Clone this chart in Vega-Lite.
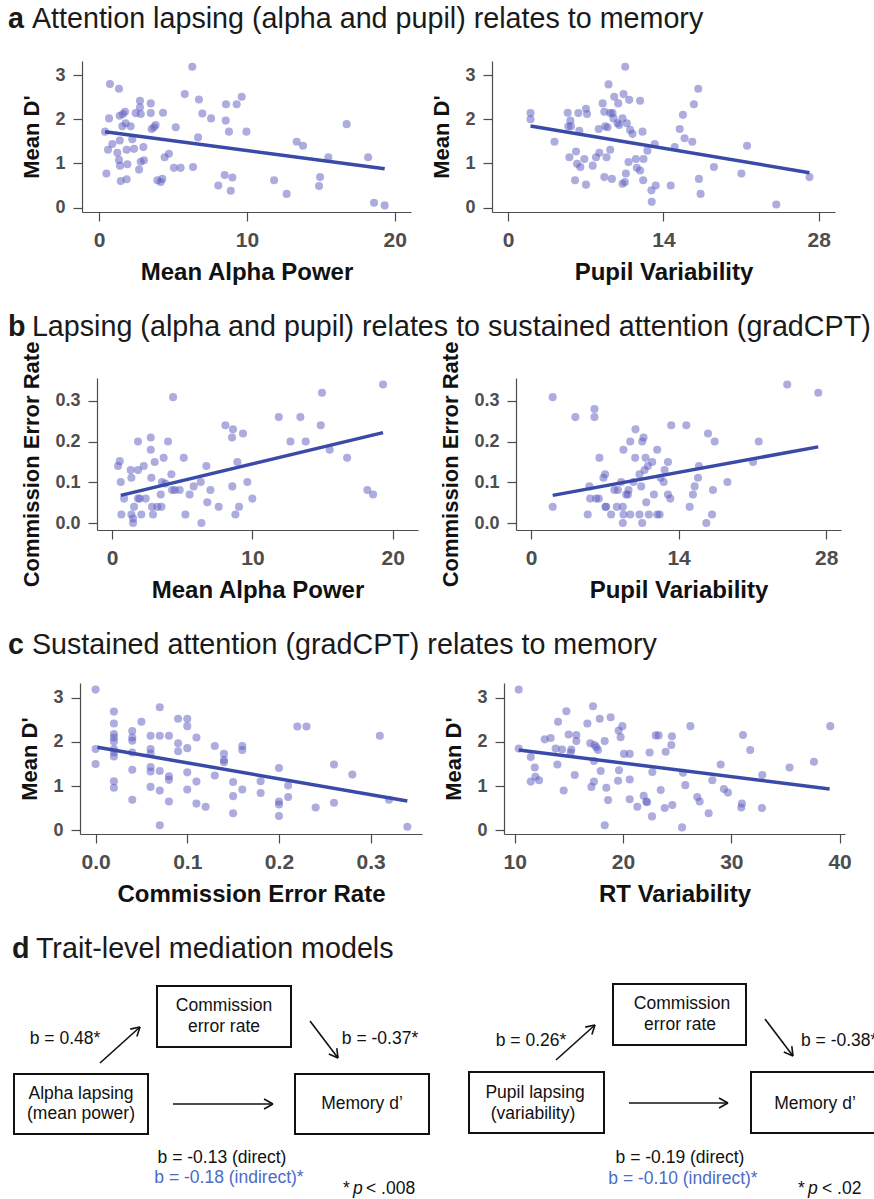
{
"$schema": "https://vega.github.io/schema/vega-lite/v6.json",
"padding": {"left": 8, "top": 5, "right": 0, "bottom": 0},
"spacing": 29,
"config": {
 "font": "Liberation Sans",
 "view": {"stroke": null},
 "axis": {"grid": false, "domainColor": "#4d4d4d", "domainWidth": 1.2, "tickColor": "#4d4d4d", "tickSize": 9, "tickWidth": 1.2, "labelFont": "Liberation Sans", "labelFontWeight": "bold", "labelColor": "#4d4d4d", "labelPadding": 8, "titleFont": "Liberation Sans", "titleFontWeight": "bold", "titleColor": "#111111", "labelFlush": false, "labelOverlap": false},
 "axisX": {"labelFontSize": 21, "titleFontSize": 24, "titlePadding": 10},
 "axisY": {"labelFontSize": 18, "titleFontSize": 22, "titlePadding": 11},
 "title": {"font": "Liberation Sans", "anchor": "start", "fontSize": 28.7, "fontWeight": "bold", "color": "#1a1a1a", "subtitleFont": "Liberation Sans", "subtitleFontSize": 28.7, "subtitleFontWeight": "normal", "subtitleColor": "#1a1a1a", "subtitlePadding": -28.7}
},
"datasets": {
 "a1_pts": [{"x":0.41,"y":1.72},{"x":0.5,"y":0.77},{"x":0.61,"y":1.31},{"x":0.68,"y":2.02},{"x":0.74,"y":2.8},{"x":0.9,"y":1.44},{"x":1.24,"y":1.24},{"x":1.35,"y":2.69},{"x":1.4,"y":1.52},{"x":1.4,"y":2.08},{"x":1.35,"y":1.08},{"x":1.42,"y":0.95},{"x":1.47,"y":0.6},{"x":1.62,"y":2.12},{"x":1.58,"y":1.84},{"x":1.76,"y":2.17},{"x":1.8,"y":1.91},{"x":1.87,"y":1.31},{"x":1.87,"y":0.64},{"x":1.92,"y":0.98},{"x":2.14,"y":1.84},{"x":2.25,"y":1.55},{"x":2.37,"y":1.33},{"x":2.48,"y":2.14},{"x":2.77,"y":2.42},{"x":2.77,"y":2.27},{"x":2.82,"y":2.12},{"x":2.71,"y":0.86},{"x":2.82,"y":1.04},{"x":3.0,"y":1.37},{"x":3.04,"y":1.07},{"x":3.5,"y":2.36},{"x":3.5,"y":2.14},{"x":3.56,"y":1.78},{"x":3.72,"y":1.82},{"x":3.83,"y":1.87},{"x":3.95,"y":0.62},{"x":4.17,"y":0.58},{"x":4.28,"y":0.65},{"x":4.33,"y":2.15},{"x":4.44,"y":1.14},{"x":4.73,"y":1.22},{"x":5.07,"y":0.9},{"x":5.19,"y":1.82},{"x":5.52,"y":0.9},{"x":5.8,"y":2.57},{"x":6.31,"y":3.19},{"x":6.36,"y":0.92},{"x":6.7,"y":1.59},{"x":6.76,"y":2.45},{"x":6.99,"y":2.13},{"x":7.58,"y":2.02},{"x":8.07,"y":0.5},{"x":8.5,"y":0.74},{"x":8.57,"y":1.97},{"x":8.59,"y":2.34},{"x":8.79,"y":1.72},{"x":9.02,"y":0.68},{"x":8.91,"y":0.38},{"x":9.31,"y":2.34},{"x":9.65,"y":2.51},{"x":9.97,"y":1.72},{"x":11.84,"y":0.62},{"x":12.69,"y":0.31},{"x":13.37,"y":1.49},{"x":13.8,"y":1.4},{"x":14.88,"y":0.49},{"x":14.95,"y":0.69},{"x":15.51,"y":1.14},{"x":16.75,"y":1.89},{"x":18.2,"y":1.14},{"x":18.6,"y":0.11},{"x":19.32,"y":0.05}],
 "a1_fit": [{"x":0.41,"y":1.72},{"x":19.32,"y":0.88}],
 "a2_pts": [{"x":2.03,"y":2.14},{"x":2.03,"y":2.0},{"x":4.19,"y":1.49},{"x":5.38,"y":2.15},{"x":5.62,"y":1.97},{"x":5.44,"y":1.84},{"x":5.68,"y":1.84},{"x":5.53,"y":1.14},{"x":6.04,"y":0.62},{"x":6.13,"y":1.27},{"x":6.22,"y":0.99},{"x":6.43,"y":1.74},{"x":6.52,"y":0.92},{"x":6.34,"y":2.14},{"x":6.88,"y":1.1},{"x":7.03,"y":2.24},{"x":7.12,"y":2.12},{"x":7.03,"y":0.52},{"x":7.63,"y":0.95},{"x":7.93,"y":1.14},{"x":8.23,"y":1.24},{"x":8.17,"y":1.78},{"x":8.53,"y":2.36},{"x":8.68,"y":2.17},{"x":8.68,"y":0.69},{"x":8.76,"y":1.84},{"x":8.88,"y":1.14},{"x":8.97,"y":1.82},{"x":9.06,"y":2.79},{"x":9.21,"y":1.31},{"x":9.21,"y":2.14},{"x":9.42,"y":2.14},{"x":9.36,"y":0.65},{"x":9.51,"y":2.02},{"x":9.57,"y":2.51},{"x":9.87,"y":1.91},{"x":9.93,"y":2.36},{"x":10.02,"y":1.87},{"x":10.32,"y":2.02},{"x":10.32,"y":0.54},{"x":10.41,"y":2.57},{"x":10.56,"y":3.19},{"x":10.62,"y":0.77},{"x":10.53,"y":0.58},{"x":10.71,"y":1.91},{"x":10.86,"y":1.03},{"x":10.92,"y":2.44},{"x":11.0,"y":1.76},{"x":11.22,"y":1.67},{"x":11.52,"y":1.1},{"x":11.61,"y":0.9},{"x":11.9,"y":0.84},{"x":11.9,"y":2.42},{"x":12.12,"y":1.72},{"x":12.18,"y":0.62},{"x":12.21,"y":1.1},{"x":12.56,"y":1.29},{"x":12.92,"y":0.39},{"x":12.95,"y":0.13},{"x":13.22,"y":1.44},{"x":13.31,"y":0.5},{"x":14.66,"y":0.5},{"x":15.02,"y":1.37},{"x":15.47,"y":1.78},{"x":15.76,"y":2.1},{"x":15.91,"y":1.57},{"x":16.6,"y":1.49},{"x":16.75,"y":2.34},{"x":17.14,"y":2.69},{"x":17.2,"y":0.65},{"x":17.35,"y":0.31},{"x":18.55,"y":0.92},{"x":21.03,"y":0.77},{"x":21.54,"y":1.4},{"x":24.17,"y":0.07},{"x":27.16,"y":0.69}],
 "a2_fit": [{"x":2.03,"y":1.85},{"x":27.16,"y":0.79}],
 "b1_pts": [{"x":0.43,"y":0.14},{"x":0.55,"y":0.152},{"x":0.62,"y":0.101},{"x":0.67,"y":0.021},{"x":0.86,"y":0.06},{"x":1.33,"y":0.13},{"x":1.38,"y":0.111},{"x":1.38,"y":0.021},{"x":1.5,"y":0.0},{"x":1.57,"y":0.04},{"x":1.5,"y":0.011},{"x":1.85,"y":0.2},{"x":1.85,"y":0.13},{"x":1.85,"y":0.06},{"x":2.09,"y":0.021},{"x":1.97,"y":0.06},{"x":2.26,"y":0.14},{"x":2.4,"y":0.06},{"x":2.76,"y":0.21},{"x":2.76,"y":0.18},{"x":2.8,"y":0.111},{"x":2.85,"y":0.04},{"x":2.92,"y":0.021},{"x":3.04,"y":0.15},{"x":3.23,"y":0.04},{"x":3.47,"y":0.07},{"x":3.52,"y":0.04},{"x":3.56,"y":0.101},{"x":3.68,"y":0.16},{"x":3.8,"y":0.097},{"x":3.99,"y":0.2},{"x":4.23,"y":0.12},{"x":4.28,"y":0.081},{"x":4.35,"y":0.309},{"x":4.47,"y":0.081},{"x":4.82,"y":0.081},{"x":5.11,"y":0.16},{"x":5.23,"y":0.021},{"x":5.53,"y":0.07},{"x":5.82,"y":0.09},{"x":6.32,"y":0.101},{"x":6.37,"y":0.0},{"x":6.72,"y":0.14},{"x":6.79,"y":0.051},{"x":7.01,"y":0.081},{"x":7.6,"y":0.04},{"x":8.08,"y":0.24},{"x":8.55,"y":0.21},{"x":8.62,"y":0.23},{"x":8.57,"y":0.09},{"x":8.79,"y":0.021},{"x":8.93,"y":0.15},{"x":9.05,"y":0.04},{"x":9.33,"y":0.22},{"x":9.64,"y":0.101},{"x":10.0,"y":0.06},{"x":11.88,"y":0.26},{"x":12.71,"y":0.2},{"x":13.42,"y":0.26},{"x":13.8,"y":0.2},{"x":14.87,"y":0.24},{"x":14.96,"y":0.32},{"x":15.51,"y":0.18},{"x":16.75,"y":0.16},{"x":18.19,"y":0.081},{"x":18.6,"y":0.07},{"x":19.31,"y":0.34}],
 "b1_fit": [{"x":0.62,"y":0.068},{"x":19.31,"y":0.222}],
 "b2_pts": [{"x":2.06,"y":0.309},{"x":2.06,"y":0.04},{"x":4.21,"y":0.26},{"x":5.38,"y":0.021},{"x":5.54,"y":0.09},{"x":5.61,"y":0.06},{"x":6.02,"y":0.28},{"x":6.02,"y":0.26},{"x":6.18,"y":0.06},{"x":6.43,"y":0.06},{"x":6.49,"y":0.16},{"x":6.87,"y":0.111},{"x":7.03,"y":0.12},{"x":7.06,"y":0.04},{"x":7.13,"y":0.04},{"x":7.6,"y":0.021},{"x":7.91,"y":0.081},{"x":8.14,"y":0.04},{"x":8.24,"y":0.081},{"x":8.55,"y":0.101},{"x":8.71,"y":0.04},{"x":8.77,"y":0.18},{"x":8.77,"y":0.021},{"x":8.71,"y":0.0},{"x":9.03,"y":0.07},{"x":9.19,"y":0.07},{"x":9.25,"y":0.081},{"x":9.41,"y":0.021},{"x":9.41,"y":0.2},{"x":9.72,"y":0.101},{"x":9.91,"y":0.23},{"x":9.88,"y":0.16},{"x":10.29,"y":0.021},{"x":10.55,"y":0.0},{"x":10.45,"y":0.09},{"x":10.29,"y":0.12},{"x":10.55,"y":0.2},{"x":10.68,"y":0.21},{"x":10.77,"y":0.13},{"x":10.87,"y":0.16},{"x":10.93,"y":0.051},{"x":11.18,"y":0.021},{"x":11.09,"y":0.14},{"x":11.5,"y":0.15},{"x":11.66,"y":0.07},{"x":11.97,"y":0.18},{"x":11.97,"y":0.021},{"x":12.2,"y":0.021},{"x":12.29,"y":0.111},{"x":12.58,"y":0.101},{"x":12.67,"y":0.13},{"x":12.99,"y":0.15},{"x":12.99,"y":0.07},{"x":13.21,"y":0.06},{"x":13.3,"y":0.24},{"x":14.73,"y":0.24},{"x":15.05,"y":0.04},{"x":15.36,"y":0.07},{"x":15.52,"y":0.09},{"x":15.84,"y":0.111},{"x":15.93,"y":0.14},{"x":16.63,"y":0.0},{"x":16.79,"y":0.22},{"x":17.17,"y":0.021},{"x":17.26,"y":0.081},{"x":17.42,"y":0.2},{"x":18.63,"y":0.101},{"x":21.06,"y":0.15},{"x":21.6,"y":0.2},{"x":24.3,"y":0.34},{"x":27.24,"y":0.32}],
 "b2_fit": [{"x":2.06,"y":0.068},{"x":27.24,"y":0.187}],
 "c1_pts": [{"x":0.0,"y":3.19},{"x":0.0,"y":1.84},{"x":0.0,"y":1.5},{"x":0.02,"y":2.69},{"x":0.02,"y":2.42},{"x":0.02,"y":2.18},{"x":0.02,"y":2.1},{"x":0.02,"y":2.01},{"x":0.02,"y":1.84},{"x":0.02,"y":1.76},{"x":0.02,"y":1.67},{"x":0.02,"y":1.11},{"x":0.02,"y":0.96},{"x":0.04,"y":2.25},{"x":0.04,"y":2.1},{"x":0.04,"y":2.03},{"x":0.04,"y":1.76},{"x":0.04,"y":1.37},{"x":0.04,"y":0.69},{"x":0.05,"y":2.46},{"x":0.06,"y":2.14},{"x":0.06,"y":1.84},{"x":0.06,"y":1.74},{"x":0.06,"y":1.43},{"x":0.06,"y":1.33},{"x":0.06,"y":0.98},{"x":0.07,"y":2.79},{"x":0.07,"y":2.14},{"x":0.07,"y":1.34},{"x":0.07,"y":0.9},{"x":0.07,"y":0.11},{"x":0.08,"y":2.14},{"x":0.08,"y":1.22},{"x":0.08,"y":1.14},{"x":0.08,"y":0.65},{"x":0.09,"y":2.53},{"x":0.09,"y":1.97},{"x":0.09,"y":1.79},{"x":0.1,"y":2.53},{"x":0.1,"y":2.36},{"x":0.1,"y":1.86},{"x":0.1,"y":1.31},{"x":0.1,"y":0.92},{"x":0.11,"y":2.1},{"x":0.11,"y":1.1},{"x":0.11,"y":0.6},{"x":0.12,"y":0.53},{"x":0.13,"y":1.91},{"x":0.13,"y":1.24},{"x":0.14,"y":1.73},{"x":0.14,"y":1.59},{"x":0.14,"y":1.54},{"x":0.15,"y":1.09},{"x":0.15,"y":0.77},{"x":0.15,"y":0.38},{"x":0.16,"y":1.91},{"x":0.16,"y":1.82},{"x":0.16,"y":0.92},{"x":0.18,"y":1.11},{"x":0.18,"y":0.84},{"x":0.2,"y":1.41},{"x":0.2,"y":0.65},{"x":0.2,"y":0.58},{"x":0.2,"y":0.32},{"x":0.21,"y":1.01},{"x":0.21,"y":0.75},{"x":0.22,"y":2.35},{"x":0.23,"y":2.35},{"x":0.24,"y":0.51},{"x":0.26,"y":1.49},{"x":0.26,"y":0.62},{"x":0.28,"y":1.26},{"x":0.31,"y":2.14},{"x":0.32,"y":0.69},{"x":0.34,"y":0.075}],
 "c1_fit": [{"x":0.002,"y":1.88},{"x":0.34,"y":0.66}],
 "c2_pts": [{"x":10.37,"y":3.19},{"x":10.37,"y":1.85},{"x":11.48,"y":1.66},{"x":11.48,"y":1.1},{"x":11.85,"y":1.42},{"x":11.91,"y":1.21},{"x":12.25,"y":1.13},{"x":12.77,"y":2.06},{"x":13.32,"y":2.09},{"x":13.78,"y":1.85},{"x":13.94,"y":1.49},{"x":14.0,"y":2.46},{"x":14.37,"y":1.83},{"x":14.52,"y":0.9},{"x":14.77,"y":2.7},{"x":14.98,"y":2.17},{"x":15.17,"y":1.76},{"x":15.23,"y":1.83},{"x":15.54,"y":1.25},{"x":15.69,"y":2.16},{"x":15.69,"y":2.02},{"x":16.71,"y":2.42},{"x":16.98,"y":1.97},{"x":17.08,"y":0.98},{"x":17.23,"y":2.81},{"x":17.32,"y":1.57},{"x":17.32,"y":1.1},{"x":17.38,"y":1.93},{"x":17.54,"y":1.88},{"x":17.69,"y":1.82},{"x":17.85,"y":2.53},{"x":17.94,"y":1.34},{"x":18.31,"y":2.02},{"x":18.31,"y":0.11},{"x":18.46,"y":0.96},{"x":18.62,"y":0.68},{"x":18.86,"y":2.56},{"x":19.54,"y":1.12},{"x":19.63,"y":1.36},{"x":19.6,"y":2.26},{"x":19.78,"y":2.11},{"x":19.94,"y":2.36},{"x":20.09,"y":1.73},{"x":20.62,"y":1.73},{"x":20.62,"y":1.15},{"x":20.62,"y":0.7},{"x":21.32,"y":0.53},{"x":21.91,"y":0.78},{"x":22.15,"y":0.65},{"x":22.22,"y":0.63},{"x":22.46,"y":1.76},{"x":22.68,"y":0.31},{"x":22.71,"y":1.32},{"x":23.02,"y":2.15},{"x":23.29,"y":2.15},{"x":23.48,"y":0.91},{"x":23.85,"y":0.5},{"x":23.94,"y":1.78},{"x":24.46,"y":1.93},{"x":24.52,"y":2.13},{"x":24.55,"y":0.57},{"x":25.45,"y":0.06},{"x":25.54,"y":1.3},{"x":25.75,"y":1.02},{"x":26.22,"y":2.36},{"x":26.86,"y":0.75},{"x":27.08,"y":0.65},{"x":27.91,"y":0.38},{"x":28.25,"y":1.13},{"x":29.02,"y":1.49},{"x":29.32,"y":0.93},{"x":29.69,"y":0.85},{"x":30.92,"y":0.51},{"x":30.98,"y":0.6},{"x":31.08,"y":2.16},{"x":31.75,"y":1.82},{"x":32.83,"y":0.5},{"x":32.86,"y":1.25},{"x":35.38,"y":1.42},{"x":37.63,"y":1.55},{"x":39.14,"y":2.36}],
 "c2_fit": [{"x":10.37,"y":1.82},{"x":39.08,"y":0.93}],
 "boxes": [{"x1":157,"x2":291,"y1":985,"y2":1046},{"x1":14,"x2":148,"y1":1073,"y2":1133},{"x1":295,"x2":429,"y1":1073,"y2":1133},{"x1":613,"x2":746,"y1":983,"y2":1044},{"x1":469,"x2":604,"y1":1071,"y2":1132},{"x1":751,"x2":885,"y1":1071,"y2":1132}],
 "segs": [{"x1":100,"y1":1062,"x2":140,"y2":1026},{"x1":140,"y1":1026,"x2":130.2,"y2":1028.1},{"x1":140,"y1":1026,"x2":136.9,"y2":1035.5},{"x1":310,"y1":1020,"x2":338,"y2":1057},{"x1":338,"y1":1057,"x2":336.8,"y2":1047.1},{"x1":338,"y1":1057,"x2":328.8,"y2":1053.1},{"x1":173,"y1":1103,"x2":273,"y2":1103},{"x1":273,"y1":1103,"x2":264,"y2":1098},{"x1":273,"y1":1103,"x2":264,"y2":1108},{"x1":556,"y1":1059,"x2":595,"y2":1024},{"x1":595,"y1":1024,"x2":585.2,"y2":1026.1},{"x1":595,"y1":1024,"x2":591.9,"y2":1033.5},{"x1":765,"y1":1018,"x2":793,"y2":1055},{"x1":793,"y1":1055,"x2":791.8,"y2":1045.1},{"x1":793,"y1":1055,"x2":783.8,"y2":1051.1},{"x1":629,"y1":1102,"x2":728,"y2":1102},{"x1":728,"y1":1102,"x2":719,"y2":1097},{"x1":728,"y1":1102,"x2":719,"y2":1107}],
 "dtext": [
  {"role":"c","x":224,"y":1005,"text":"Commission"},{"role":"c","x":224,"y":1026,"text":"error rate"},
  {"role":"c","x":81,"y":1093,"text":"Alpha lapsing"},{"role":"c","x":81,"y":1113,"text":"(mean power)"},
  {"role":"c","x":362,"y":1103,"text":"Memory d’"},
  {"role":"c","x":65,"y":1038,"text":"b = 0.48*"},{"role":"c","x":380,"y":1038,"text":"b = -0.37*"},
  {"role":"c","x":222,"y":1157,"text":"b = -0.13 (direct)"},
  {"role":"blue","x":229,"y":1177,"text":"b = -0.18 (indirect)*"},
  {"role":"l","x":343,"y":1188,"text":"*"},{"role":"it","x":353,"y":1188,"text":"p"},{"role":"l","x":366,"y":1188,"text":"< .008"},
  {"role":"c","x":682,"y":1003,"text":"Commission"},{"role":"c","x":680,"y":1024,"text":"error rate"},
  {"role":"c","x":535,"y":1092,"text":"Pupil lapsing"},{"role":"c","x":533,"y":1113,"text":"(variability)"},
  {"role":"c","x":815,"y":1103,"text":"Memory d’"},
  {"role":"c","x":531,"y":1040,"text":"b = 0.26*"},{"role":"l","x":801,"y":1040,"text":"b = -0.38*"},
  {"role":"c","x":680,"y":1157,"text":"b = -0.19 (direct)"},
  {"role":"blue","x":683,"y":1178,"text":"b = -0.10 (indirect)*"},
  {"role":"l","x":798,"y":1188,"text":"*"},{"role":"it","x":808,"y":1188,"text":"p"},{"role":"l","x":822,"y":1188,"text":"< .02"}
 ]
},
"vconcat": [
 {
  "title": {"text": "a", "subtitle": "\u200b\u00a0\u00a0\u00a0Attention lapsing (alpha and pupil) relates to memory", "offset": 27},
  "spacing": 0,
  "hconcat": [
   {"width": 12, "height": 10, "data": {"values": []}, "mark": "point"},
   {"spacing": 19,
    "hconcat": [
     {"width": 329, "height": 151,
      "encoding": {"x": {"field": "x", "type": "quantitative", "scale": {"domain": [-1.15, 21.1], "nice": false, "zero": false}, "axis": {"values": [0, 10, 20], "title": "Mean Alpha Power"}},
                   "y": {"field": "y", "type": "quantitative", "scale": {"domain": [-0.1, 3.32], "nice": false, "zero": false}, "axis": {"values": [0, 1, 2, 3], "title": "Mean D'"}}},
      "layer": [
       {"data": {"name": "a1_pts"}, "mark": {"type": "circle", "size": 65, "color": "#5a5abf", "opacity": 0.5}},
       {"data": {"name": "a1_fit"}, "mark": {"type": "line", "color": "#3a4aa8", "strokeWidth": 3.5}}
      ]},
     {"width": 343, "height": 151,
      "encoding": {"x": {"field": "x", "type": "quantitative", "scale": {"domain": [-1.44, 29.46], "nice": false, "zero": false}, "axis": {"values": [0, 14, 28], "title": "Pupil Variability"}},
                   "y": {"field": "y", "type": "quantitative", "scale": {"domain": [-0.1, 3.32], "nice": false, "zero": false}, "axis": {"values": [0, 1, 2, 3], "title": "Mean D'"}}},
      "layer": [
       {"data": {"name": "a2_pts"}, "mark": {"type": "circle", "size": 65, "color": "#5a5abf", "opacity": 0.5}},
       {"data": {"name": "a2_fit"}, "mark": {"type": "line", "color": "#3a4aa8", "strokeWidth": 3.5}}
      ]}
    ]}
  ]
 },
 {
  "title": {"text": "b", "subtitle": "\u200b\u00a0\u00a0\u00a0Lapsing (alpha and pupil) relates to sustained attention (gradCPT)", "offset": -1},
  "spacing": 0,
  "hconcat": [
   {"width": 12, "height": 10, "data": {"values": []}, "mark": "point"},
   {"spacing": 21,
    "hconcat": [
     {"width": 321, "height": 152,
      "encoding": {"x": {"field": "x", "type": "quantitative", "scale": {"domain": [-1.07, 21.8], "nice": false, "zero": false}, "axis": {"values": [0, 10, 20], "title": "Mean Alpha Power"}},
                   "y": {"field": "y", "type": "quantitative", "scale": {"domain": [-0.017, 0.356], "nice": false, "zero": false}, "axis": {"values": [0, 0.1, 0.2, 0.3], "format": ".1f", "title": "Commission Error Rate", "titleY": 86}}},
      "layer": [
       {"data": {"name": "b1_pts"}, "mark": {"type": "circle", "size": 65, "color": "#5a5abf", "opacity": 0.5}},
       {"data": {"name": "b1_fit"}, "mark": {"type": "line", "color": "#3a4aa8", "strokeWidth": 3.5}}
      ]},
     {"width": 325, "height": 152,
      "encoding": {"x": {"field": "x", "type": "quantitative", "scale": {"domain": [-1.42, 29.4], "nice": false, "zero": false}, "axis": {"values": [0, 14, 28], "title": "Pupil Variability"}},
                   "y": {"field": "y", "type": "quantitative", "scale": {"domain": [-0.017, 0.356], "nice": false, "zero": false}, "axis": {"values": [0, 0.1, 0.2, 0.3], "format": ".1f", "title": "Commission Error Rate", "titleY": 86}}},
      "layer": [
       {"data": {"name": "b2_pts"}, "mark": {"type": "circle", "size": 65, "color": "#5a5abf", "opacity": 0.5}},
       {"data": {"name": "b2_fit"}, "mark": {"type": "line", "color": "#3a4aa8", "strokeWidth": 3.5}}
      ]}
    ]}
  ]
 },
 {
  "title": {"text": "c", "subtitle": "\u200b\u00a0\u00a0\u00a0Sustained attention (gradCPT) relates to memory", "offset": 23},
  "spacing": 0,
  "hconcat": [
   {"width": 10, "height": 10, "data": {"values": []}, "mark": "point"},
   {"spacing": 20,
    "hconcat": [
     {"width": 342, "height": 151,
      "encoding": {"x": {"field": "x", "type": "quantitative", "scale": {"domain": [-0.017, 0.356], "nice": false, "zero": false}, "axis": {"values": [0, 0.1, 0.2, 0.3], "format": ".1f", "title": "Commission Error Rate"}},
                   "y": {"field": "y", "type": "quantitative", "scale": {"domain": [-0.09, 3.34], "nice": false, "zero": false}, "axis": {"values": [0, 1, 2, 3], "title": "Mean D'"}}},
      "layer": [
       {"data": {"name": "c1_pts"}, "mark": {"type": "circle", "size": 65, "color": "#5a5abf", "opacity": 0.5}},
       {"data": {"name": "c1_fit"}, "mark": {"type": "line", "color": "#3a4aa8", "strokeWidth": 3.5}}
      ]},
     {"width": 341, "height": 151,
      "encoding": {"x": {"field": "x", "type": "quantitative", "scale": {"domain": [9.01, 40.5], "nice": false, "zero": false}, "axis": {"values": [10, 20, 30, 40], "title": "RT Variability"}},
                   "y": {"field": "y", "type": "quantitative", "scale": {"domain": [-0.09, 3.34], "nice": false, "zero": false}, "axis": {"values": [0, 1, 2, 3], "title": "Mean D'"}}},
      "layer": [
       {"data": {"name": "c2_pts"}, "mark": {"type": "circle", "size": 65, "color": "#5a5abf", "opacity": 0.5}},
       {"data": {"name": "c2_fit"}, "mark": {"type": "line", "color": "#3a4aa8", "strokeWidth": 3.5}}
      ]}
    ]}
  ]
 },
 {
  "title": {"text": "d", "subtitle": "\u200b\u00a0\u00a0\u00a0Trait-level mediation models", "offset": -1, "dx": 4},
  "width": 866, "height": 237,
  "layer": [
   {"data": {"name": "boxes"}, "mark": {"type": "rect", "filled": false, "color": "#111111", "strokeWidth": 2, "clip": true},
    "encoding": {"x": {"field": "x1", "type": "quantitative", "scale": {"domain": [8, 874], "nice": false, "zero": false}, "axis": null}, "x2": {"field": "x2"},
                 "y": {"field": "y1", "type": "quantitative", "scale": {"domain": [962, 1199], "reverse": true, "nice": false, "zero": false}, "axis": null}, "y2": {"field": "y2"}}},
   {"data": {"name": "segs"}, "mark": {"type": "rule", "color": "#111111", "strokeWidth": 1.6, "clip": true},
    "encoding": {"x": {"field": "x1", "type": "quantitative", "axis": null}, "x2": {"field": "x2"}, "y": {"field": "y1", "type": "quantitative", "axis": null}, "y2": {"field": "y2"}}},
   {"data": {"name": "dtext"}, "transform": [{"filter": "datum.role == 'c'"}], "mark": {"type": "text", "fontSize": 17.5, "font": "Liberation Sans", "color": "#111111", "align": "center", "baseline": "middle", "clip": true},
    "encoding": {"x": {"field": "x", "type": "quantitative", "axis": null}, "y": {"field": "y", "type": "quantitative", "axis": null}, "text": {"field": "text"}}},
   {"data": {"name": "dtext"}, "transform": [{"filter": "datum.role == 'l'"}], "mark": {"type": "text", "fontSize": 17.5, "font": "Liberation Sans", "color": "#111111", "align": "left", "baseline": "middle", "clip": true},
    "encoding": {"x": {"field": "x", "type": "quantitative", "axis": null}, "y": {"field": "y", "type": "quantitative", "axis": null}, "text": {"field": "text"}}},
   {"data": {"name": "dtext"}, "transform": [{"filter": "datum.role == 'it'"}], "mark": {"type": "text", "fontSize": 17.5, "font": "Liberation Sans", "fontStyle": "italic", "color": "#111111", "align": "left", "baseline": "middle", "clip": true},
    "encoding": {"x": {"field": "x", "type": "quantitative", "axis": null}, "y": {"field": "y", "type": "quantitative", "axis": null}, "text": {"field": "text"}}},
   {"data": {"name": "dtext"}, "transform": [{"filter": "datum.role == 'blue'"}], "mark": {"type": "text", "fontSize": 17.5, "font": "Liberation Sans", "color": "#4a6bc8", "align": "center", "baseline": "middle", "clip": true},
    "encoding": {"x": {"field": "x", "type": "quantitative", "axis": null}, "y": {"field": "y", "type": "quantitative", "axis": null}, "text": {"field": "text"}}}
  ]
 }
]
}
